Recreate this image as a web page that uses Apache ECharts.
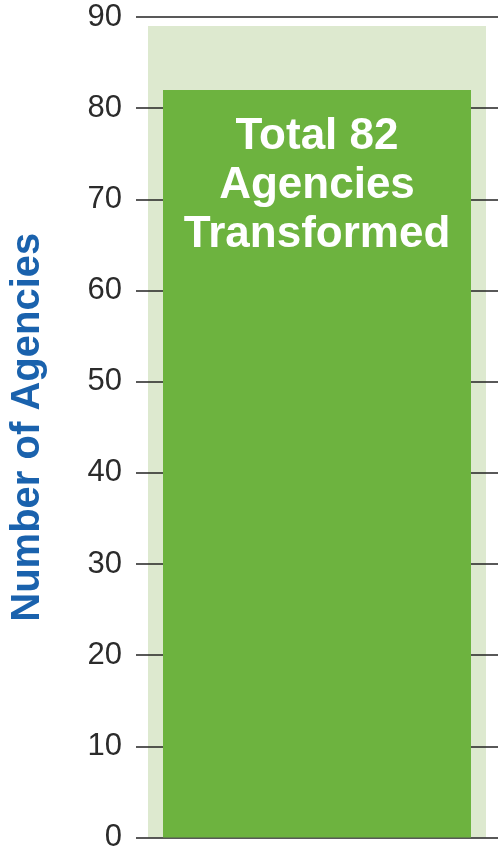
<!DOCTYPE html>
<html>
<head>
<meta charset="utf-8">
<script src="https://cdn.jsdelivr.net/npm/echarts@6/dist/echarts.min.js"></script>
<style>
  html, body { margin: 0; padding: 0; background: #fff; }
  #main { width: 498px; height: 853px; }
</style>
</head>
<body>
<div id="main"></div>
<script>
// chart data
var categories = ["Agencies"];
var transformed = [82];
var backdrop = [89];
var labelLines = ["Total 82", "Agencies", "Transformed"];

var myChart = echarts.init(document.getElementById("main"));

var hiddenCat = {
  type: "category",
  data: categories,
  axisLine: { show: false },
  axisTick: { show: false },
  axisLabel: { show: false }
};

myChart.setOption({
  animation: false,
  grid: {
    left: 136,
    right: 0,
    top: 17,
    bottom: 11
  },
  xAxis: [
    hiddenCat,
    Object.assign({}, hiddenCat, { show: false })
  ],
  yAxis: {
    type: "value",
    min: 0,
    max: 90,
    interval: 10,
    z: 1.5,
    name: "Number of Agencies",
    nameLocation: "middle",
    nameGap: 88,
    nameTextStyle: {
      color: "#1a62ad",
      fontFamily: "Liberation Sans",
      fontWeight: "bold",
      fontSize: 40
    },
    axisLine: { show: false },
    axisTick: { show: false },
    axisLabel: {
      color: "#2b2b2b",
      fontFamily: "Liberation Sans",
      fontSize: 31,
      margin: 14,
      padding: [14, 0, 0, 0]
    },
    splitLine: {
      lineStyle: { color: "#222", width: 1.6 }
    }
  },
  series: [
    {
      name: "backdrop",
      type: "bar",
      xAxisIndex: 1,
      z: 1,
      barWidth: 338,
      silent: true,
      itemStyle: { color: "#dde9cf" },
      data: backdrop
    },
    {
      name: "Agencies",
      type: "bar",
      xAxisIndex: 0,
      z: 2,
      barWidth: 308,
      itemStyle: { color: "#6db33f" },
      label: {
        show: true,
        position: "insideTop",
        distance: 22,
        formatter: labelLines.join("\n"),
        color: "#fff",
        fontFamily: "Liberation Sans",
        fontWeight: "bold",
        fontSize: 44,
        lineHeight: 49,
        align: "center"
      },
      data: transformed
    }
  ]
});
</script>
</body>
</html>
